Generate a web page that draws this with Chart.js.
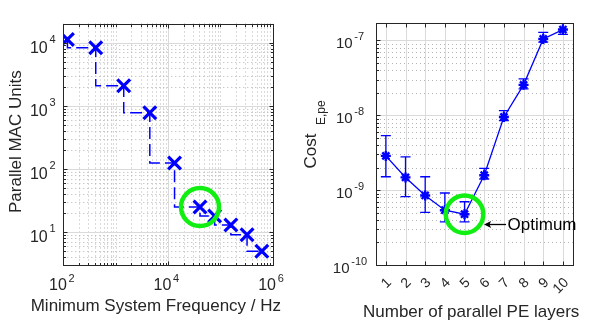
<!DOCTYPE html>
<html><head><meta charset="utf-8">
<script src="https://cdn.jsdelivr.net/npm/chart.js@4.4.1/dist/chart.umd.min.js"></script>
<style>
html,body{margin:0;padding:0;background:#fff;overflow:hidden;width:593px;height:322px;}
#c1{position:absolute;left:0;top:0;}
#c2{position:absolute;left:296px;top:0;}
</style></head><body>
<canvas id="c1" width="296" height="322"></canvas>
<canvas id="c2" width="300" height="322"></canvas>
<script>
// ---------- data (left panel) ----------
const leftFreqHz   = [120, 417, 1430, 4510, 13400, 41100, 78200, 160000, 326000, 625000];
const leftMacUnits = [11200, 8280, 2070, 773, 124, 24.8, 17.9, 12.9, 9.03, 4.97];
const leftOptimumIndex = 5;
const leftXTickExps = [2, 4, 6];
const leftYTickExps = [1, 2, 3, 4];

// ---------- data (right panel) ----------
const rightLayers   = ['1','2','3','4','5','6','7','8','9','10'];
const rightCost     = [2.87e-9, 1.48e-9, 8.49e-10, 5.40e-10, 4.77e-10, 1.585e-9, 9.52e-9, 2.556e-8, 1.05e-7, 1.40e-7];
const rightCostHigh = [5.35e-9, 2.79e-9, 1.51e-9, 9.17e-10, 7.0e-10, 1.95e-9, 1.155e-8, 3.07e-8, 1.285e-7, 1.74e-7];
const rightCostLow  = [1.51e-9, 8.18e-10, 5.06e-10, 3.76e-10, 3.76e-10, 1.41e-9, 8.49e-9, 2.26e-8, 9.5e-8, 1.21e-7];
const rightOptimumIndex = 4;
const rightYTickExps = [-10, -9, -8, -7];

// ---------- style ----------
const AXIS = '#262626', BLUE = '#0000ff', GREEN = '#11ee11';
const MAJOR = '#dadada', MINOR = '#b4b4b4';
const FONT = '"Liberation Sans", Arial, Helvetica, sans-serif';

function logMinor(min, max, majors) {
  const out = [];
  for (let e = Math.floor(Math.log10(min)); e <= Math.ceil(Math.log10(max)); e++) {
    for (let k = 1; k <= 9; k++) {
      const v = k * Math.pow(10, e);
      if (v > min * 1.0001 && v < max * 0.9999 && !majors.some(m => Math.abs(m - v) / v < 1e-9)) out.push(v);
    }
  }
  return out;
}
const leftXMajor = leftXTickExps.map(e => Math.pow(10, e));
const leftYMajor = leftYTickExps.map(e => Math.pow(10, e));
const rightYMajor = rightYTickExps.map(e => Math.pow(10, e));
const leftXMinor = logMinor(1e2, 1e6, leftXMajor);
const leftYMinor = logMinor(3, 2e4, leftYMajor);
const rightYMinor = logMinor(1e-10, 1.7e-7, rightYMajor);

const snap = v => Math.round(v) + 0.5;
function vline(ctx, x, y0, y1) { ctx.beginPath(); ctx.moveTo(x, y0); ctx.lineTo(x, y1); ctx.stroke(); }
function hline(ctx, y, x0, x1) { ctx.beginPath(); ctx.moveTo(x0, y); ctx.lineTo(x1, y); ctx.stroke(); }
function text(ctx, s, x, y, size, align, color) {
  ctx.font = size + 'px ' + FONT; ctx.fillStyle = color || AXIS;
  ctx.textAlign = align || 'left'; ctx.textBaseline = 'alphabetic'; ctx.fillText(s, x, y);
}
function rotText(ctx, s, x, y, size, color) {
  ctx.save(); ctx.translate(x, y); ctx.rotate(-Math.PI / 2); text(ctx, s, 0, 0, size, 'left', color); ctx.restore();
}
// "10" with superscript exponent; startX = left edge of whole label
function powLabel(ctx, exp, startX, baseY, supY, bSize, sSize) {
  ctx.font = bSize + 'px ' + FONT;
  const wb = ctx.measureText('10').width;
  text(ctx, '10', startX, baseY, bSize);
  text(ctx, String(exp), startX + wb + 1.7, supY, sSize);
}
function powWidth(ctx, exp, bSize, sSize) {
  ctx.font = bSize + 'px ' + FONT; const wb = ctx.measureText('10').width;
  ctx.font = sSize + 'px ' + FONT; const ws = ctx.measureText(String(exp)).width;
  return wb + 1.7 + ws;
}

// ---------- left panel decorations ----------
const leftDeco = {
  id: 'leftDeco',
  beforeDatasetsDraw(chart) {
    const {ctx, chartArea: a, scales: {x, y}} = chart;
    ctx.save(); ctx.lineWidth = 1;
    ctx.strokeStyle = MINOR; ctx.setLineDash([1, 3]);
    leftXMinor.forEach(v => vline(ctx, snap(x.getPixelForValue(v)), a.top, a.bottom));
    leftYMinor.forEach(v => hline(ctx, snap(y.getPixelForValue(v)), a.left, a.right));
    ctx.setLineDash([]); ctx.strokeStyle = MAJOR;
    leftXMajor.forEach(v => vline(ctx, snap(x.getPixelForValue(v)), a.top, a.bottom));
    leftYMajor.forEach(v => hline(ctx, snap(y.getPixelForValue(v)), a.left, a.right));
    ctx.restore();
  },
  afterDatasetsDraw(chart) {
    const {ctx, chartArea: a, scales: {x, y}} = chart;
    ctx.save(); ctx.lineWidth = 1; ctx.strokeStyle = AXIS;
    const L = snap(a.left), R = snap(a.right), T = snap(a.top), B = snap(a.bottom);
    ctx.strokeRect(L, T, R - L, B - T);
    leftXMajor.forEach(v => { const p = snap(x.getPixelForValue(v)); vline(ctx, p, B, B - 4); vline(ctx, p, T, T + 4); });
    leftXMinor.forEach(v => { const p = snap(x.getPixelForValue(v)); vline(ctx, p, B, B - 2.5); vline(ctx, p, T, T + 2.5); });
    leftYMajor.forEach(v => { const p = snap(y.getPixelForValue(v)); hline(ctx, p, L, L + 4); hline(ctx, p, R, R - 4); });
    leftYMinor.forEach(v => { const p = snap(y.getPixelForValue(v)); hline(ctx, p, L, L + 2.5); hline(ctx, p, R, R - 2.5); });
    // tick labels
    leftYTickExps.forEach(e => {
      const p = y.getPixelForValue(Math.pow(10, e));
      const w = powWidth(ctx, e, 16, 11);
      powLabel(ctx, e, 55.5 - w, p + 10, p + 0.5, 16, 11);
    });
    leftXTickExps.forEach(e => {
      const p = x.getPixelForValue(Math.pow(10, e));
      const w = powWidth(ctx, e, 16, 11);
      powLabel(ctx, e, p - 1.5 - w / 2, 290, 281.5, 16, 11);
    });
    // axis titles
    text(ctx, 'Minimum System Frequency / Hz', 30.7, 310.5, 17);
    rotText(ctx, 'Parallel MAC Units', 20.7, 213, 17);
    ctx.restore();
  }
};

// ---------- right panel decorations ----------
const rightDeco = {
  id: 'rightDeco',
  beforeDatasetsDraw(chart) {
    const {ctx, chartArea: a, scales: {x, y}} = chart;
    ctx.save(); ctx.lineWidth = 1;
    ctx.strokeStyle = MINOR; ctx.setLineDash([1, 3]);
    rightYMinor.forEach(v => hline(ctx, snap(y.getPixelForValue(v)), a.left, a.right));
    ctx.setLineDash([]); ctx.strokeStyle = MAJOR;
    rightLayers.forEach((l, i) => vline(ctx, snap(x.getPixelForValue(i)), a.top, a.bottom));
    rightYMajor.forEach(v => hline(ctx, snap(y.getPixelForValue(v)), a.left, a.right));
    // error bars
    ctx.beginPath(); ctx.rect(a.left, a.top, a.right - a.left, a.bottom - a.top); ctx.clip();
    ctx.strokeStyle = BLUE; ctx.lineWidth = 1.3;
    rightCost.forEach((c, i) => {
      const px = x.getPixelForValue(i);
      const yh = y.getPixelForValue(rightCostHigh[i]), yl = y.getPixelForValue(rightCostLow[i]);
      vline(ctx, px, yh, yl);
      hline(ctx, yh, px - 5, px + 5);
      hline(ctx, yl, px - 5, px + 5);
    });
    ctx.restore();
  },
  afterDatasetsDraw(chart) {
    const {ctx, chartArea: a, scales: {x, y}} = chart;
    ctx.save(); ctx.lineWidth = 1; ctx.strokeStyle = AXIS;
    const L = snap(a.left), R = snap(a.right), T = snap(a.top), B = snap(a.bottom);
    ctx.strokeRect(L, T, R - L, B - T);
    rightLayers.forEach((l, i) => { const p = snap(x.getPixelForValue(i)); vline(ctx, p, B, B - 4); vline(ctx, p, T, T + 4); });
    rightYMajor.forEach(v => { const p = snap(y.getPixelForValue(v)); hline(ctx, p, L, L + 4); });
    rightYMinor.forEach(v => { const p = snap(y.getPixelForValue(v)); hline(ctx, p, L, L + 2.5); });
    // y tick labels
    rightYTickExps.forEach(e => {
      const p = y.getPixelForValue(Math.pow(10, e));
      const w = powWidth(ctx, e, 15, 11);
      powLabel(ctx, e, 54 - w / 2, p + 7.5, p + 0, 15, 11);
    });
    // rotated x tick labels
    rightLayers.forEach((l, i) => {
      const p = x.getPixelForValue(i);
      ctx.save(); ctx.translate(p + 3.5, 280.5); ctx.rotate(-Math.PI / 4);
      ctx.font = '14px ' + FONT; ctx.fillStyle = AXIS; ctx.textAlign = 'right'; ctx.textBaseline = 'middle';
      ctx.fillText(l, 0, 0); ctx.restore();
    });
    // axis titles
    text(ctx, 'Number of parallel PE layers', 363 - 296, 316.7, 17);
    rotText(ctx, 'Cost', 315.5 - 296, 168.5, 17);
    rotText(ctx, 'E,pe', 325 - 296, 125, 12);
    // annotation: arrow + text
    const ox = x.getPixelForValue(rightOptimumIndex), oy = y.getPixelForValue(rightCost[rightOptimumIndex]);
    const ax = ox + 19.5, ay = Math.round(oy + 9.3) + 0.5;
    ctx.strokeStyle = '#000'; ctx.fillStyle = '#000'; ctx.lineWidth = 1.3;
    hline(ctx, ay, ax + 2, ax + 22);
    ctx.beginPath(); ctx.moveTo(ax, ay); ctx.lineTo(ax + 7, ay - 3.5); ctx.lineTo(ax + 5.5, ay); ctx.lineTo(ax + 7, ay + 3.5); ctx.closePath(); ctx.fill();
    text(ctx, 'Optimum', ox + 43, oy + 15.5, 17, 'left', '#000');
    ctx.restore();
  }
};

const baseOpts = {
  responsive: false, animation: false, devicePixelRatio: 1, events: [],
  plugins: { legend: { display: false }, tooltip: { enabled: false } }
};
const hiddenAxis = { ticks: { display: false }, grid: { display: false }, border: { display: false } };

// ---------- left chart ----------
new Chart(document.getElementById('c1'), {
  type: 'line',
  data: {
    datasets: [
      {
        label: 'optimum', order: 0, showLine: false, clip: 0,
        data: [{ x: leftFreqHz[leftOptimumIndex], y: leftMacUnits[leftOptimumIndex] }],
        pointStyle: 'circle', pointRadius: 19, pointBorderWidth: 4.5,
        pointBorderColor: GREEN, pointBackgroundColor: 'rgba(0,0,0,0)'
      },
      {
        label: 'MAC units', order: 1, clip: 0,
        data: leftFreqHz.map((f, i) => ({ x: f, y: leftMacUnits[i] })),
        stepped: 'after', borderColor: BLUE, borderWidth: 1.5, borderDash: [12, 5],
        pointStyle: 'crossRot', pointRadius: 9, pointBorderWidth: 3.2,
        pointBorderColor: BLUE, pointBackgroundColor: BLUE, fill: false
      }
    ]
  },
  options: Object.assign({}, baseOpts, {
    layout: { padding: { left: 0, right: 13.3, top: 6.7, bottom: 0 } },
    scales: {
      x: Object.assign({ type: 'logarithmic', min: 1e2, max: 1e6, afterFit: s => { s.height = 57; } }, hiddenAxis),
      y: Object.assign({ type: 'logarithmic', min: 3, max: 2e4, afterFit: s => { s.width = 63.3; } }, hiddenAxis)
    }
  }),
  plugins: [leftDeco]
});

// ---------- right chart ----------
new Chart(document.getElementById('c2'), {
  type: 'line',
  data: {
    labels: rightLayers,
    datasets: [
      {
        label: 'optimum', order: 0, showLine: false, clip: 0,
        data: rightCost.map((v, i) => i === rightOptimumIndex ? v : null),
        pointStyle: 'circle', pointRadius: 18.75, pointBorderWidth: 4.5,
        pointBorderColor: GREEN, pointBackgroundColor: 'rgba(0,0,0,0)'
      },
      {
        label: 'Cost', order: 1, clip: 0, data: rightCost,
        borderColor: BLUE, borderWidth: 1.3, tension: 0,
        pointStyle: 'star', pointRadius: 5, pointBorderWidth: 2.4,
        pointBorderColor: BLUE, pointBackgroundColor: BLUE, fill: false
      }
    ]
  },
  options: Object.assign({}, baseOpts, {
    layout: { padding: { left: 0, right: 1, top: 6.7, bottom: 0 } },
    scales: {
      x: Object.assign({ type: 'category', offset: true, afterFit: s => { s.height = 57; } }, hiddenAxis),
      y: Object.assign({ type: 'logarithmic', min: 1e-10, max: 1.7e-7, afterFit: s => { s.width = 80; } }, hiddenAxis)
    }
  }),
  plugins: [rightDeco]
});
</script>
</body></html>
